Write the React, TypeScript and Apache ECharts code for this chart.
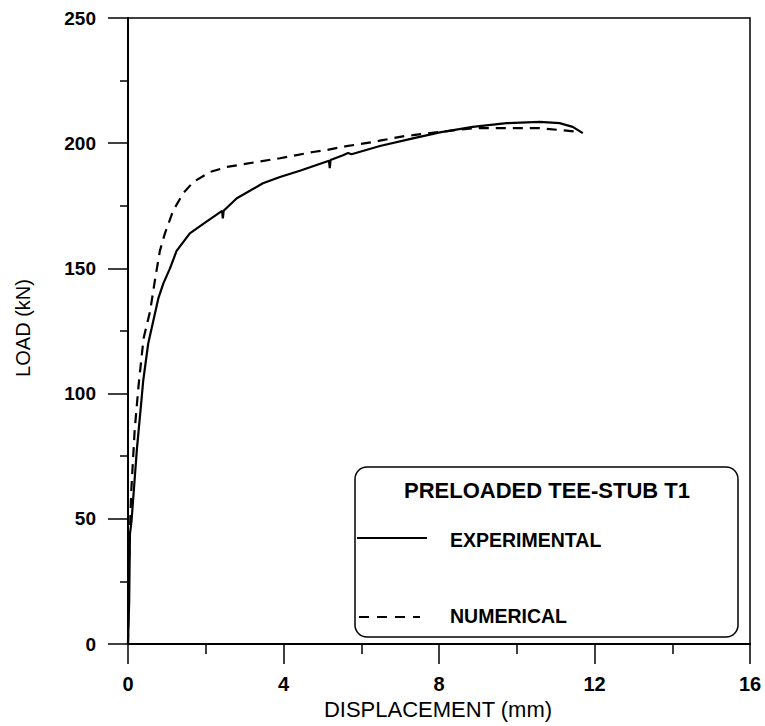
import React, { useEffect, useRef } from "react";
import * as echarts from "echarts";

// Experimental curve (displacement mm, load kN)
const expDisp = [0, 0.03, 0.05, 0.09, 0.23, 0.35, 0.39, 0.52, 0.65, 0.78, 0.91, 1.08, 1.25, 1.59, 2.0, 2.42, 2.44, 2.46, 2.8, 3.47, 3.91, 4.42, 5.17, 5.19, 5.21, 5.53, 5.66, 5.75, 6.48, 7.33, 8.02, 8.87, 9.74, 10.59, 11.1, 11.44, 11.7];
const expLoad = [0, 17, 44, 49, 78, 98, 105, 120, 129, 138, 144, 150, 157, 164, 168.5, 173, 170, 173, 178, 184, 186.5, 189, 193, 190, 193.3, 195.2, 196.1, 195.6, 198.9, 201.9, 204.3, 206.5, 208, 208.5, 208, 206.5, 204];

// Numerical curve (displacement mm, load kN)
const numDisp = [0, 0.02, 0.08, 0.17, 0.27, 0.4, 0.57, 0.7, 0.82, 0.95, 1.16, 1.42, 1.68, 2.11, 2.54, 3.39, 3.91, 4.25, 4.76, 5.11, 5.62, 6.31, 6.48, 7.16, 7.33, 8.02, 8.88, 9.74, 10.59, 11.28, 11.62];
const numLoad = [0, 30, 60, 85, 103, 122, 133, 146, 157, 164, 173, 180, 184.5, 188.5, 190.5, 192.7, 194, 195, 196.5, 197.3, 198.8, 200.5, 201, 203, 203.2, 204.5, 206, 206, 206, 205, 204.5];

const xTicks = { min: 0, max: 16, interval: 4 };
const yTicks = { min: 0, max: 250, interval: 50 };

const FONT = "'Liberation Sans', Arial, Helvetica, sans-serif";

export default function App() {
  const ref = useRef<HTMLDivElement>(null);

  useEffect(() => {
    if (!ref.current) return;
    const chart = echarts.init(ref.current, null, { renderer: "svg" });
    const expData = expDisp.map((d, i) => [d, expLoad[i]]);
    const numData = numDisp.map((d, i) => [d, numLoad[i]]);

    chart.setOption({
      animation: false,
      backgroundColor: "#ffffff",
      grid: {
        left: 128,
        right: 15,
        top: 18,
        bottom: 82,
        show: true,
        borderColor: "#000",
        borderWidth: 1.5,
        backgroundColor: "transparent",
      },
      xAxis: {
        type: "value",
        min: xTicks.min,
        max: xTicks.max,
        interval: xTicks.interval,
        axisLine: { show: true, onZero: false, lineStyle: { color: "#000", width: 2 } },
        axisTick: { show: true, inside: false, length: 20, lineStyle: { color: "#000", width: 1.5 } },
        minorTick: { show: true, splitNumber: 2, length: 10, lineStyle: { color: "#000", width: 1.5 } },
        splitLine: { show: false },
        minorSplitLine: { show: false },
        axisLabel: {
          color: "#000",
          fontFamily: FONT,
          fontWeight: "bold",
          fontSize: 20,
          lineHeight: 18,
          margin: 31,
        },
      },
      yAxis: {
        type: "value",
        min: yTicks.min,
        max: yTicks.max,
        interval: yTicks.interval,
        axisLine: { show: true, onZero: false, lineStyle: { color: "#000", width: 2 } },
        axisTick: { show: true, inside: false, length: 20, lineStyle: { color: "#000", width: 1.5 } },
        minorTick: { show: true, splitNumber: 2, length: 8, lineStyle: { color: "#000", width: 1.5 } },
        splitLine: { show: false },
        minorSplitLine: { show: false },
        axisLabel: {
          color: "#000",
          fontFamily: FONT,
          fontWeight: "bold",
          fontSize: 19,
          margin: 32,
        },
      },
      series: [
        {
          name: "EXPERIMENTAL",
          type: "line",
          data: expData,
          showSymbol: false,
          smooth: false,
          lineStyle: { color: "#000", width: 2.2, type: "solid" },
        },
        {
          name: "NUMERICAL",
          type: "line",
          data: numData,
          showSymbol: false,
          smooth: false,
          lineStyle: { color: "#000", width: 2.2, type: [10, 7] },
        },
      ],
      graphic: [
        {
          type: "text",
          x: 438,
          y: 709,
          style: {
            text: "DISPLACEMENT (mm)",
            fill: "#000",
            font: `22px ${FONT}`,
            lineHeight: 20,
            align: "center",
            verticalAlign: "middle",
          },
        },
        {
          type: "text",
          x: 23,
          y: 328,
          rotation: Math.PI / 2,
          style: {
            text: "LOAD (kN)",
            fill: "#000",
            font: `20px ${FONT}`,
            align: "center",
            verticalAlign: "middle",
          },
        },
        {
          type: "rect",
          shape: { x: 355, y: 467, width: 383, height: 170, r: 12 },
          style: { fill: "#fff", stroke: "#000", lineWidth: 1.5 },
          z: 10,
        },
        {
          type: "text",
          x: 547,
          y: 490,
          z: 11,
          style: {
            text: "PRELOADED TEE-STUB T1",
            fill: "#000",
            font: `bold 22px ${FONT}`,
            align: "center",
            verticalAlign: "middle",
          },
        },
        {
          type: "line",
          z: 11,
          shape: { x1: 357, y1: 538, x2: 427, y2: 538 },
          style: { stroke: "#000", lineWidth: 2 },
        },
        {
          type: "text",
          x: 450,
          y: 540,
          z: 11,
          style: {
            text: "EXPERIMENTAL",
            fill: "#000",
            font: `bold 19.5px ${FONT}`,
            align: "left",
            verticalAlign: "middle",
          },
        },
        {
          type: "line",
          z: 11,
          shape: { x1: 359, y1: 617, x2: 420, y2: 617 },
          style: { stroke: "#000", lineWidth: 2, lineDash: [10, 8] },
        },
        {
          type: "text",
          x: 450,
          y: 616,
          z: 11,
          style: {
            text: "NUMERICAL",
            fill: "#000",
            font: `bold 19.5px ${FONT}`,
            align: "left",
            verticalAlign: "middle",
          },
        },
      ],
    });

    return () => {
      chart.dispose();
    };
  }, []);

  return (
    <div
      ref={ref}
      style={{ position: "absolute", left: 0, top: 0, width: 765, height: 726 }}
    />
  );
}
